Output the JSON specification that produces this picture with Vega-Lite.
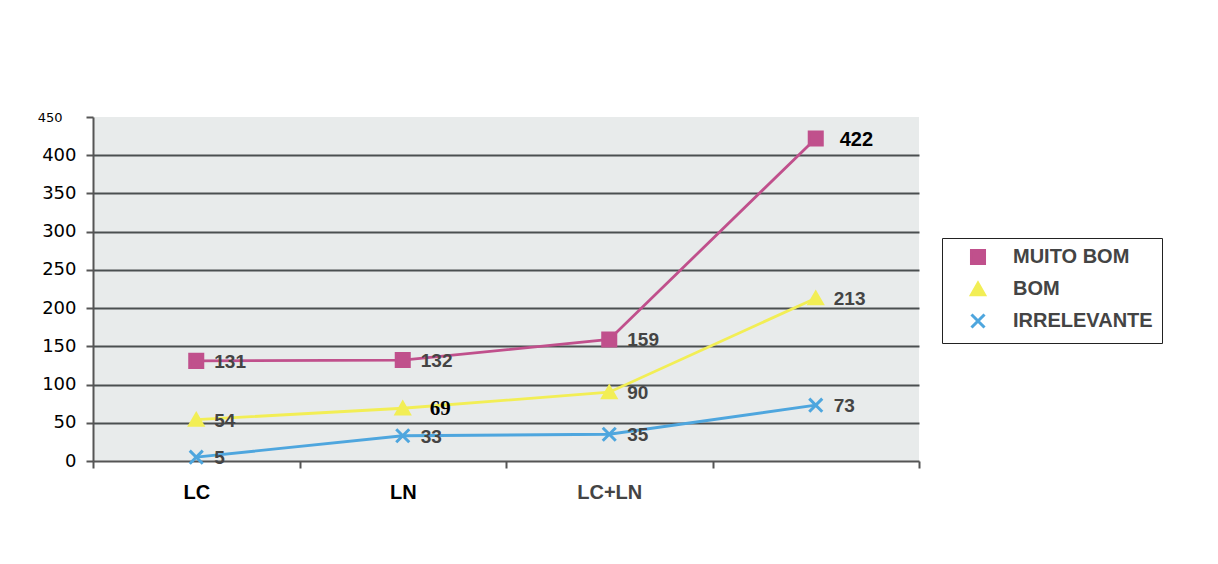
{
  "$schema": "https://vega.github.io/schema/vega-lite/v6.json",
  "autosize": "none",
  "width": 826,
  "height": 344,
  "padding": {"left": 93, "top": 117, "right": 299, "bottom": 103},
  "background": "white",
  "config": {
    "view": {"fill": "#e8ebeb", "stroke": null},
    "font": "Liberation Sans"
  },
  "data": {
    "values": [
      {"cat": "LC", "series": "MUITO BOM", "value": 131, "label": "131"},
      {"cat": "LN", "series": "MUITO BOM", "value": 132, "label": "132"},
      {"cat": "LC+LN", "series": "MUITO BOM", "value": 159, "label": "159"},
      {"cat": " ", "series": "MUITO BOM", "value": 422, "label": "422"},
      {"cat": "LC", "series": "BOM", "value": 54, "label": "54"},
      {"cat": "LN", "series": "BOM", "value": 69, "label": "69"},
      {"cat": "LC+LN", "series": "BOM", "value": 90, "label": "90"},
      {"cat": " ", "series": "BOM", "value": 213, "label": "213"},
      {"cat": "LC", "series": "IRRELEVANTE", "value": 5, "label": "5"},
      {"cat": "LN", "series": "IRRELEVANTE", "value": 33, "label": "33"},
      {"cat": "LC+LN", "series": "IRRELEVANTE", "value": 35, "label": "35"},
      {"cat": " ", "series": "IRRELEVANTE", "value": 73, "label": "73"}
    ]
  },
  "resolve": {"legend": {"color": "independent", "stroke": "independent", "shape": "independent"}},
  "encoding": {
    "x": {
      "field": "cat", "type": "nominal", "sort": null,
      "scale": {"type": "band", "paddingInner": 0, "paddingOuter": 0},
      "axis": {
        "title": null, "labelAngle": 0, "tickBand": "extent",
        "domainColor": "#555", "domainWidth": 2, "tickColor": "#555", "tickWidth": 2, "tickSize": 7,
        "labelFont": "Liberation Sans", "labelFontWeight": "bold",
        "labelFontSize": 20,
        "labelColor": {"condition": {"test": "datum.value == 'LC+LN'", "value": "#444"}, "value": "#000"},
        "labelBaseline": "top",
        "labelPadding": 14
      }
    },
    "y": {
      "field": "value", "type": "quantitative",
      "scale": {"domain": [0, 450], "nice": false},
      "axis": {
        "title": null, "values": [0, 50, 100, 150, 200, 250, 300, 350, 400, 450],
        "grid": true, "gridColor": "#4a4f50", "gridWidth": 2,
        "gridOpacity": {"condition": {"test": "datum.value == 450 || datum.value == 0", "value": 0}, "value": 1},
        "domainColor": "#555", "domainWidth": 2, "tickColor": "#555", "tickWidth": 2, "tickSize": 7,
        "labelFont": "DejaVu Sans",
        "labelFontSize": {"condition": {"test": "datum.value == 450", "value": 13}, "value": 18},
        "labelPadding": {"condition": {"test": "datum.value == 450", "value": 24}, "value": 10},
        "labelColor": "#000"
      }
    }
  },
  "layer": [
    {
      "mark": {"type": "line", "strokeWidth": 2.8},
      "encoding": {
        "color": {
          "field": "series", "type": "nominal", "sort": null,
          "scale": {"domain": ["MUITO BOM", "BOM", "IRRELEVANTE"], "range": ["#c0508c", "#f2ee55", "#4ea6de"]},
          "legend": null
        }
      }
    },
    {
      "mark": {"type": "point", "filled": true, "size": 170, "strokeWidth": 3, "opacity": 1},
      "encoding": {
        "color": {
          "field": "series", "type": "nominal", "sort": null,
          "scale": {"domain": ["MUITO BOM", "BOM", "IRRELEVANTE"], "range": ["#c0508c", "#f2ee55", "#4ea6de"]},
          "legend": {
            "title": null, "orient": "none", "legendX": 849, "legendY": 121,
            "strokeColor": "#222", "fillColor": "white",
            "padding": 9, "rowPadding": 7, "symbolSize": 170, "symbolStrokeWidth": 3,
            "symbolOffset": 17,
            "labelFont": "Liberation Sans", "labelFontWeight": "bold", "labelFontSize": 20,
            "labelColor": "#444", "labelOffset": 25, "labelLimit": 300
          }
        },
        "stroke": {
          "field": "series", "type": "nominal", "sort": null,
          "scale": {"domain": ["MUITO BOM", "BOM", "IRRELEVANTE"], "range": ["#c0508c", "#f2ee55", "#4ea6de"]}
        },
        "shape": {
          "field": "series", "type": "nominal", "sort": null,
          "scale": {"domain": ["MUITO BOM", "BOM", "IRRELEVANTE"], "range": ["square", "triangle-up", "M-1,-1L1,1M-1,1L1,-1"]}
        }
      }
    },
    {
      "transform": [{"filter": "datum.label != '69' && datum.label != '422'"}],
      "mark": {"type": "text", "align": "left", "dx": 18, "dy": 1, "font": "Liberation Sans", "fontWeight": "bold", "fontSize": 19, "color": "#444"},
      "encoding": {"text": {"field": "label"}}
    },
    {
      "transform": [{"filter": "datum.label == '69'"}],
      "mark": {"type": "text", "align": "left", "dx": 27, "dy": 1, "font": "Liberation Serif", "fontWeight": "bold", "fontSize": 21, "color": "#000"},
      "encoding": {"text": {"field": "label"}}
    },
    {
      "transform": [{"filter": "datum.label == '422'"}],
      "mark": {"type": "text", "align": "left", "dx": 24, "dy": 2, "font": "Liberation Sans", "fontWeight": "bold", "fontSize": 20, "color": "#000"},
      "encoding": {"text": {"field": "label"}}
    }
  ]
}
